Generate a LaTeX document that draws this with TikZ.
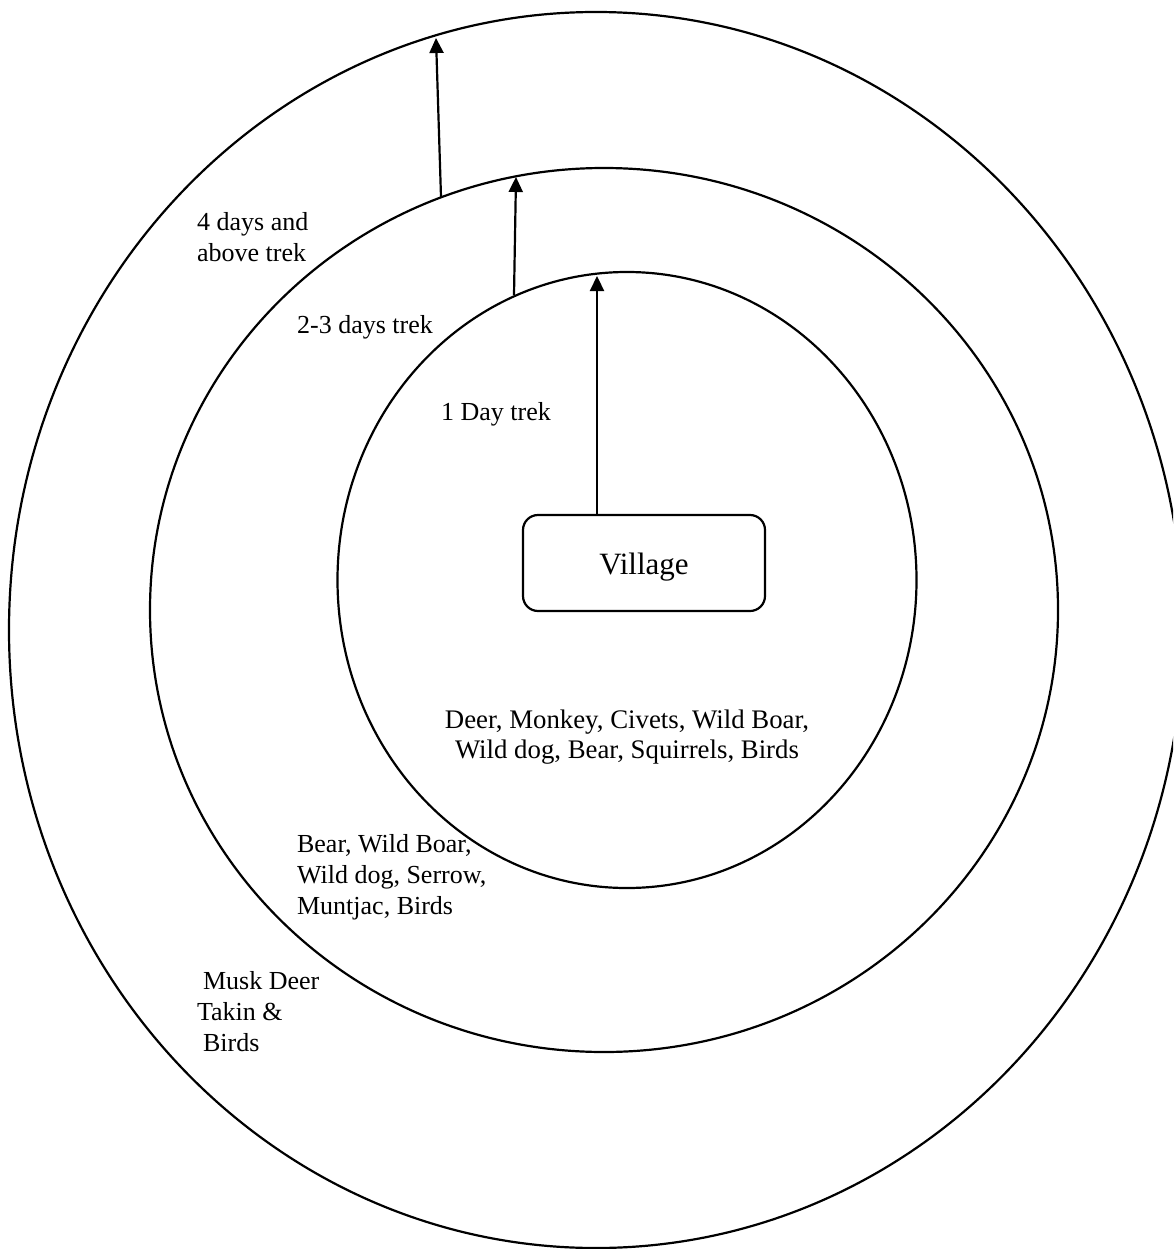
\documentclass[tikz,border=0pt]{standalone}
\usepackage{fontspec}
\setmainfont{Liberation Serif}
\usetikzlibrary{arrows.meta,shapes.geometric}
\begin{document}
\begin{tikzpicture}[x=1pt,y=-1pt, line width=2.2pt,
  ring/.style={draw, ellipse, inner sep=0pt},
  lbl/.style={font=\fontsize{26}{31}\selectfont, inner sep=0pt, align=left, anchor=west},
  arr/.style={-{Triangle[length=15pt,width=14pt]}}]
\clip (0,0) rectangle (1173,1249);
\fill[white] (0,0) rectangle (1173,1249);
\node[ring, minimum width=1174pt, minimum height=1236pt] (outer) at (596,630) {};
\node[ring, minimum width=908pt, minimum height=884pt] (middle) at (604,610) {};
\node[ring, minimum width=579pt, minimum height=616pt] (inner) at (627,580) {};
\node[draw, rounded corners=15pt, minimum width=242pt, minimum height=96pt,
  text height=25pt, text depth=3pt,
  font=\fontsize{31}{36}\selectfont] (village) at (644,563) {Village};
\coordinate (t1) at (597,276);
\coordinate (s2) at (514,295);
\coordinate (t2) at (516,177);
\coordinate (s3) at (441,197);
\coordinate (t3) at (436,38);
\draw[arr] (village.north -| t1) -- (t1);
\draw[arr] (s2) -- (t2);
\draw[arr] (s3) -- (t3);
\node[lbl] (l4) at (196,237) {4 days and\\above trek};
\node[lbl] (l23) at (296,327) {2-3 days trek};
\node[lbl] (l1) at (440,414) {1 Day trek};
\node[lbl, anchor=center, align=center, font=\fontsize{26.8}{30}\selectfont] (z1) at (627,737) {Deer, Monkey, Civets, Wild Boar,\\Wild dog, Bear, Squirrels, Birds};
\node[lbl] (z2) at (296,877) {Bear, Wild Boar,\\Wild dog, Serrow,\\Muntjac, Birds};
\node[lbl] (z3) at (196,1012) {\hspace*{6pt}Musk Deer\\Takin \&\\\hspace*{6pt}Birds};
\end{tikzpicture}
\end{document}
